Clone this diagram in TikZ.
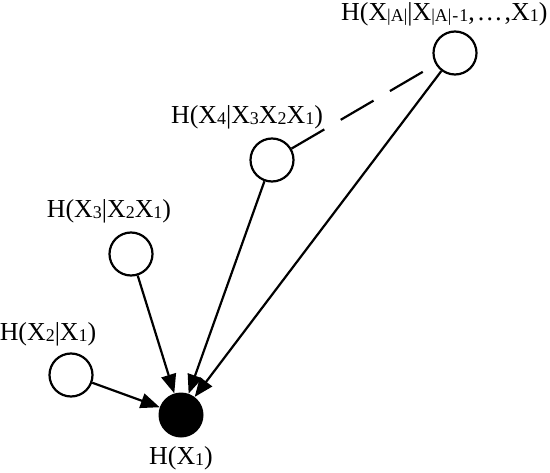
\documentclass[tikz,border=0pt]{standalone}
\usepackage{fontspec}
\setmainfont{Liberation Serif}
\usetikzlibrary{arrows.meta}

% small index for the variables
\newcommand{\ix}[1]{{\fontsize{18}{18}\selectfont\raisebox{-0.2ex}{#1}}}

\begin{document}
\begin{tikzpicture}[x=1bp, y=-1bp,
        every node/.style={font=\fontsize{26}{28}\selectfont, inner sep=0pt},
        leer/.style={circle, draw, line width=2.2bp, minimum size=43bp, inner sep=0pt},
        voll/.style={circle, fill, minimum size=45bp, inner sep=0pt},
        pfeil/.style={line width=2.2bp, -{Triangle[length=19bp, width=15bp]}},
        strich/.style={line width=2.2bp, dash pattern=on 38bp off 19bp}]
    \useasboundingbox (0,0) rectangle (550,473);

    \node[voll] (x1) at (181,415) {};
    \node[leer] (x2) at (71,375) {};
    \node[leer] (x3) at (131,254) {};
    \node[leer] (x4) at (272,160) {};
    \node[leer] (xa) at (455,53) {};

    \node (l1) at (181,458) {H(X\ix{1})};
    \node (l2) at (48,334) {H(X\ix{2}|X\ix{1})};
    \node (l3) at (109,211) {H(X\ix{3}|X\ix{2}X\ix{1})};
    \node (l4) at (247,117) {H(X\ix{4}|X\ix{3}X\ix{2}X\ix{1})};
    \node[anchor=west] (la) at (341,14)
        {H(X\ix{|A|}|X\ix{|A|\kern1pt-\kern1pt1},\kern2pt\ldots\kern2pt,X\ix{1})};

    \draw[pfeil] (x2) -- (x1);
    \draw[pfeil] (x3) -- (x1);
    \draw[pfeil] (x4) -- (x1);
    \draw[pfeil] (xa) -- (x1);
    \draw[strich] (x4) -- (xa);
\end{tikzpicture}
\end{document}
